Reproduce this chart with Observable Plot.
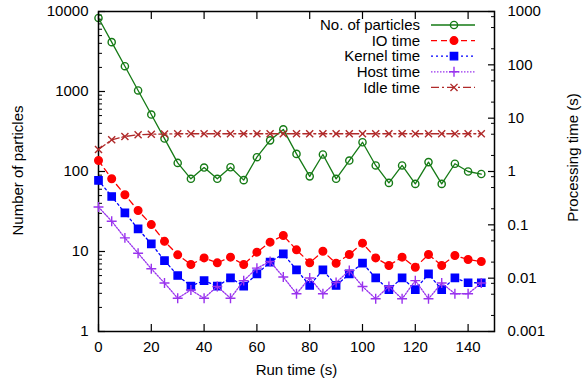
<!DOCTYPE html>
<html><head><meta charset="utf-8">
<script src="https://cdn.jsdelivr.net/npm/d3@7"></script>
<script src="https://cdn.jsdelivr.net/npm/@observablehq/plot@0.6"></script>
<style>
body{margin:0;background:#fff;}
#chart{position:relative;width:584px;height:381px;font-family:"Liberation Sans",Arial,sans-serif;}
#chart > svg{position:absolute;left:0;top:0;}
</style></head><body><div id="chart"></div>
<script>
// ---- data ----
const runTime = [0,5,10,15,20,25,30,35,40,45,50,55,60,65,70,75,80,85,90,95,100,105,110,115,120,125,130,135,140,145];
const particles = [8300,4140,2070,1030,515,258,128,81,112,81,113,78,151,245,336,166,87,163,81,137,232,119,72,119,70,131,70,125,100,93];
const ioTime = [1.61,0.73,0.366,0.186,0.101,0.049,0.0274,0.018,0.024,0.0194,0.0248,0.018,0.0307,0.0473,0.063,0.034,0.0194,0.032,0.019,0.0278,0.0453,0.024,0.0173,0.0248,0.016,0.0278,0.0173,0.0266,0.0224,0.0205];
const kernelTime = [0.68,0.34,0.168,0.084,0.044,0.0214,0.0112,0.0071,0.009,0.0071,0.0101,0.0071,0.012,0.02,0.0286,0.0143,0.0073,0.0143,0.0073,0.012,0.0191,0.0101,0.0061,0.0101,0.0061,0.012,0.0061,0.0101,0.0082,0.0082];
const hostTime = [0.216,0.117,0.057,0.0294,0.015,0.0081,0.0042,0.006,0.0042,0.007,0.0042,0.009,0.0154,0.0205,0.0105,0.0051,0.0101,0.0051,0.0083,0.0139,0.007,0.0041,0.007,0.0041,0.009,0.0041,0.0081,0.0051,0.0051,0.0081];
const idleTime = [2.59,3.93,4.53,4.88,5.0,5.05,5.1,5.1,5.1,5.1,5.1,5.1,5.1,5.1,5.1,5.1,5.1,5.1,5.1,5.1,5.1,5.1,5.1,5.1,5.1,5.1,5.1,5.1,5.1,5.1];
const seriesNames = ["No. of particles","IO time","Kernel time","Host time","Idle time"];
const xTicks = [0,20,40,60,80,100,120,140];
const leftMajor = [1,10,100,1000,10000];
const rightMajor = [0.001,0.01,0.1,1,10,100,1000];
const xLabel = "Run time (s)", yLabel = "Number of particles", y2Label = "Processing time (s)";

// ---- styles ----
const styles = [
  {color:"#157a15", dash:null, symbol:"circle", fill:"none", r:3.6, sw:1.3},
  {color:"#ff0000", dash:"6,4", symbol:"circle", fill:"#ff0000", r:3.8, sw:1.3},
  {color:"#0000ff", dash:"2,3", symbol:"square", fill:"#0000ff", r:4.1, sw:1.3},
  {color:"#9933ee", dash:"1.5,1.5", symbol:"plus", fill:"none", r:3.3, sw:1.3},
  {color:"#b02a2a", dash:"8,3,2,3", symbol:"times", fill:"none", r:3.3, sw:1.3}
];

const leftMinor = [];
for (const d of [1,10,100,1000]) for (let k=2;k<=9;k++) leftMinor.push(d*k);
const rightMinor = [];
for (const d of [0.001,0.01,0.1,1,10,100]) for (const k of [2,5,8]) rightMinor.push(+(d*k).toPrecision(3));

const W=584,H=381,mL=98,mR=90,mT=11,mB=50;
const font = '"Liberation Sans",Arial,sans-serif';
const common = {width:W,height:H,marginLeft:mL,marginRight:mR,marginTop:mT,marginBottom:mB,
  style:{fontFamily:font,fontSize:"15px",background:"transparent",color:"#000",overflow:"visible"}};

const ptsA = runTime.map((t,i)=>({t, v:particles[i]}));
const timeSeries = [ioTime,kernelTime,hostTime,idleTime];
const ptsB = timeSeries.map(arr => runTime.map((t,i)=>({t, v:arr[i]})));

function seriesMarks(data, s){
  return [
    Plot.line(data,{x:"t",y:"v",stroke:s.color,strokeWidth:s.sw,strokeDasharray:s.dash||undefined}),
    Plot.dot(data,{x:"t",y:"v",symbol:s.symbol,r:s.r,stroke:s.color,strokeWidth:1.4,fill:s.fill})
  ];
}

const plotA = Plot.plot({...common,
  x:{domain:[0,150]},
  y:{type:"log",domain:[1,10000]},
  marks:[
    Plot.axisX({ticks:xTicks,tickSize:0,tickPadding:10,tickFormat:d=>String(d),label:null}),
    Plot.axisX({ticks:xTicks,tickSize:7,dy:-7,fill:"none",label:null,strokeWidth:1.2}),
    Plot.axisX({anchor:"top",ticks:xTicks,tickSize:7,dy:7,fill:"none",label:null,strokeWidth:1.2}),
    Plot.axisY({ticks:leftMajor,tickSize:0,tickPadding:10,tickFormat:d=>String(d),label:null}),
    Plot.axisY({ticks:leftMajor,tickSize:7,dx:7,fill:"none",label:null,strokeWidth:1.2}),
    Plot.axisY({ticks:leftMinor,tickSize:4,dx:4,fill:"none",label:null,strokeWidth:1}),
    Plot.text([xLabel],{frameAnchor:"bottom",dy:39,lineAnchor:"middle",textAnchor:"middle",fill:"#000"}),
    Plot.text([yLabel],{frameAnchor:"left",dx:-80,dy:-1,rotate:-90,lineAnchor:"middle",textAnchor:"middle",fill:"#000"}),
    ...seriesMarks(ptsA, styles[0]),
    Plot.frame({stroke:"#000",strokeWidth:1.5})
  ]
});

const plotB = Plot.plot({...common,
  x:{domain:[0,150],axis:null},
  y:{type:"log",domain:[0.001,1000]},
  marks:[
    Plot.axisY({anchor:"right",ticks:rightMajor,tickSize:0,tickPadding:13,tickFormat:d=>String(d),label:null}),
    Plot.axisY({anchor:"right",ticks:rightMajor,tickSize:7,dx:-7,fill:"none",label:null,strokeWidth:1.2}),
    Plot.axisY({anchor:"right",ticks:rightMinor,tickSize:4,dx:-4,fill:"none",label:null,strokeWidth:1}),
    Plot.text([y2Label],{frameAnchor:"right",dx:79,dy:-14,rotate:-90,lineAnchor:"middle",textAnchor:"middle",fill:"#000"}),
    ...ptsB.flatMap((d,i)=>seriesMarks(d, styles[i+1]))
  ]
});

const chart = document.getElementById("chart");
chart.appendChild(plotA);
chart.appendChild(plotB);

// ---- legend overlay ----
const leg = d3.select(chart).append("svg").attr("width",W).attr("height",H)
  .style("position","absolute").style("left","0").style("top","0")
  .style("font-family",font).style("font-size","15px");
const symMap = {circle:d3.symbolCircle, square:d3.symbolSquare, plus:d3.symbolPlus, times:d3.symbolTimes};
seriesNames.forEach((name,i)=>{
  const s = styles[i];
  const y = 25 + 15.6*i;
  leg.append("text").attr("x",420).attr("y",y).attr("dy","0.35em").attr("text-anchor","end").attr("fill","#000").text(name);
  leg.append("line").attr("x1",431).attr("x2",475).attr("y1",y).attr("y2",y)
    .attr("stroke",s.color).attr("stroke-width",s.sw).attr("stroke-dasharray",s.dash);
  leg.append("path").attr("transform",`translate(454,${y})`)
    .attr("d",d3.symbol(symMap[s.symbol], Math.PI*s.r*s.r)())
    .attr("fill",s.fill).attr("stroke",s.color).attr("stroke-width",1.4);
});
</script></body></html>
